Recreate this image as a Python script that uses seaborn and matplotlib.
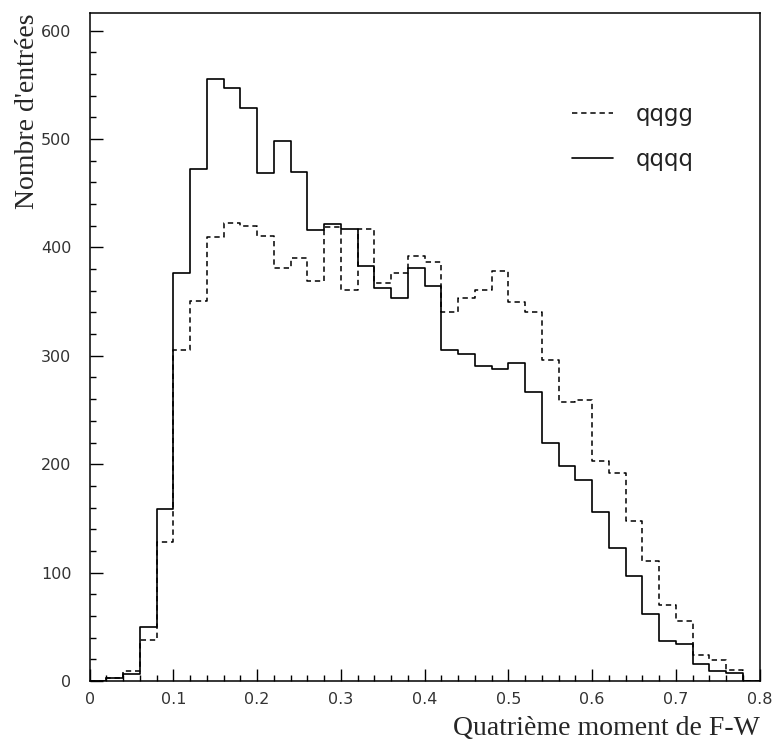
import numpy as np
import matplotlib
matplotlib.use("Agg")
import matplotlib.pyplot as plt
import pandas as pd
import seaborn as sns
from matplotlib.lines import Line2D
from matplotlib.ticker import MultipleLocator

# bin edges of the histogram (0 to 0.8, width 0.02)
bin_edges = np.round(np.arange(0, 0.8001, 0.02), 2)
bin_centers = (bin_edges[:-1] + bin_edges[1:]) / 2

# counts, one per bin
qqqq_counts = [0, 3, 6, 50, 159, 376, 472, 555, 547, 529,
               469, 498, 470, 416, 422, 417, 383, 363, 353, 381,
               364, 305, 302, 291, 288, 293, 267, 220, 198, 185,
               156, 123, 97, 62, 37, 34, 16, 9, 7, 0]
qqgg_counts = [0, 3, 9, 38, 128, 305, 351, 410, 423, 420,
               411, 381, 390, 369, 419, 361, 417, 367, 376, 392,
               387, 340, 353, 361, 378, 350, 340, 296, 257, 259,
               203, 192, 148, 111, 70, 55, 24, 19, 10, 0]

df_qqqq = pd.DataFrame({"x": bin_centers, "n": qqqq_counts})
df_qqgg = pd.DataFrame({"x": bin_centers, "n": qqgg_counts})

sns.set_style("ticks")
plt.rcParams['font.family'] = ['DejaVu Sans']

fig = plt.figure(figsize=(7.77, 7.44), dpi=100)
ax = fig.add_axes([0.1153, 0.0847, 0.8622, 0.8974])

dash = (0, (3.5, 2.5))
sns.histplot(data=df_qqgg, x="x", weights="n", binwidth=0.02, binrange=(0, 0.8),
             element="step", fill=False, color="black", linewidth=1.1, linestyle=dash, ax=ax)
sns.histplot(data=df_qqqq, x="x", weights="n", binwidth=0.02, binrange=(0, 0.8),
             element="step", fill=False, color="black", linewidth=1.2, ax=ax)

ax.set_xlim(0, 0.8)
ax.set_ylim(0, 616)
ax.xaxis.set_major_locator(MultipleLocator(0.1))
ax.xaxis.set_minor_locator(MultipleLocator(0.02))
ax.yaxis.set_major_locator(MultipleLocator(100))
ax.yaxis.set_minor_locator(MultipleLocator(20))
ax.set_xticks(np.arange(0, 0.81, 0.1))
ax.set_xticklabels(["0", "0.1", "0.2", "0.3", "0.4", "0.5", "0.6", "0.7", "0.8"])
ax.tick_params(which="both", direction="in", top=False, right=False, labelsize=11.5,
               width=1.0, color="black", labelcolor="#333333")
ax.tick_params(which="major", length=9)
ax.tick_params(which="minor", length=4.5)
ax.tick_params(axis="y", pad=13)
ax.tick_params(axis="x", pad=8)
for s in ax.spines.values():
    s.set_linewidth(1.1)
    s.set_color("black")

ax.set_xlabel("Quatrième moment de F-W", family="Liberation Serif", fontsize=20,
              loc="right", labelpad=6.5)
ax.set_ylabel("Nombre d'entrées", family="Liberation Serif", fontsize=20,
              loc="top", labelpad=0.5)

handles = [Line2D([], [], color="black", linewidth=1.1, linestyle=dash),
           Line2D([], [], color="black", linewidth=1.2)]
ax.legend(handles, ["qqgg", "qqqq"], loc="upper left", bbox_to_anchor=(0.72, 0.866),
          frameon=False, fontsize=16.5, handlelength=1.8, handletextpad=1.0,
          labelspacing=0.95, borderpad=0, borderaxespad=0, labelcolor="#222222")

fig.savefig("out.png", dpi=100)
